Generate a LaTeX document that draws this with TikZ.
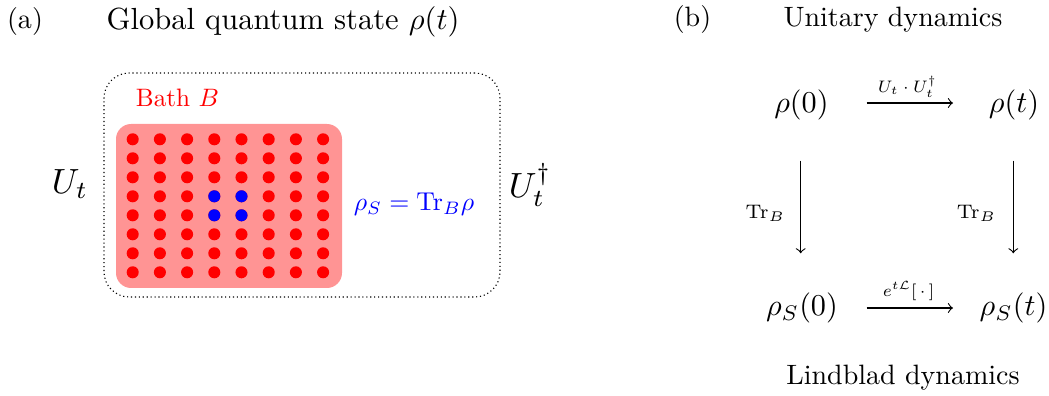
\documentclass[tikz,border=0pt]{standalone}
\usepackage{amsmath}
\usetikzlibrary{calc}
\definecolor{bathpink}{RGB}{255,148,148}
\begin{document}
\begin{tikzpicture}[x=0.357pt,y=-0.357pt,
  lbl/.style={inner sep=0pt},
  dot/.style={circle,inner sep=0pt,minimum size=4.3pt},
  reddot/.style={dot,fill=red},
  bluedot/.style={dot,fill=blue},
  arr/.style={-to,line width=0.4pt},
  state/.style={inner sep=0pt,scale=1.08},
  small/.style={inner sep=0pt,font=\scriptsize,scale=0.85}]
\useasboundingbox (0,0) rectangle (1049,396);
% panel (a)
\node[lbl] (la) at (25,22) {(a)};
\node[lbl,scale=1.09] (ta) at (283,22) {Global quantum state $\rho(t)$};
\node[draw,densely dotted,rounded corners=9pt,minimum width=396*0.357pt,minimum height=224*0.357pt,inner sep=0pt] (glob) at (302,185) {};
\node[fill=bathpink,rounded corners=5.4pt,minimum width=226*0.357pt,minimum height=164*0.357pt,inner sep=0pt] (bath) at (229,206) {};
\foreach \i in {0,...,7}{
  \foreach \j in {0,...,7}{
    \pgfmathsetmacro{\xx}{132.7+27.2*\i}
    \pgfmathsetmacro{\yy}{139.3+19*\j}
    \node[reddot] (d\i\j) at (\xx,\yy) {};
  }
}
\foreach \i in {3,4}{
  \foreach \j in {3,4}{
    \pgfmathsetmacro{\xx}{132.7+27.2*\i}
    \pgfmathsetmacro{\yy}{139.3+19*\j}
    \node[bluedot] (s\i\j) at (\xx,\yy) {};
  }
}
\node[lbl,text=red,scale=0.9] (bathlbl) at (177.5,98) {Bath $B$};
\node[lbl,text=blue,scale=0.92] (rhos) at (414,204) {$\rho_S = \mathrm{Tr}_B\rho$};
\node[lbl,scale=1.25] (ut) at (70,184) {$U_t$};
\node[lbl,scale=1.25] (utd) at (530,185) {$U_t^\dagger$};
% panel (b)
\node[lbl] (lb) at (692.5,20) {(b)};
\node[lbl] (tb) at (893,20) {Unitary dynamics};
\node[state] (r0) at (801.5,105) {$\rho(0)$};
\node[state] (rt) at (1014,105) {$\rho(t)$};
\node[state] (rs0) at (802,308) {$\rho_S(0)$};
\node[state] (rst) at (1013.5,308) {$\rho_S(t)$};
\node[lbl] (tl) at (903,378) {Lindblad dynamics};
\draw[arr] ($(r0.center)+(65.2,-2)$) -- ($(rt.center)+(-61,-2)$);
\draw[arr] ($(rs0.center)+(64.7,0)$) -- ($(rst.center)+(-60.5,0)$);
\draw[arr] ($(r0.center)+(-0.8,55.7)$) -- ($(rs0.center)+(-1.3,-54.7)$);
\draw[arr] ($(rt.center)+(-0.7,55.7)$) -- ($(rst.center)+(-0.2,-54.7)$);
\node[small] (lu) at (907.5,86.7) {$U_t\cdot U_t^\dagger$};
\node[small] (ll) at (908.5,291) {$e^{t\mathcal{L}}[\,\cdot\,]$};
\node[lbl,font=\scriptsize] (tr1) at (765.5,213) {$\mathrm{Tr}_B$};
\node[lbl,font=\scriptsize] (tr2) at (976.5,213) {$\mathrm{Tr}_B$};
\end{tikzpicture}
\end{document}
